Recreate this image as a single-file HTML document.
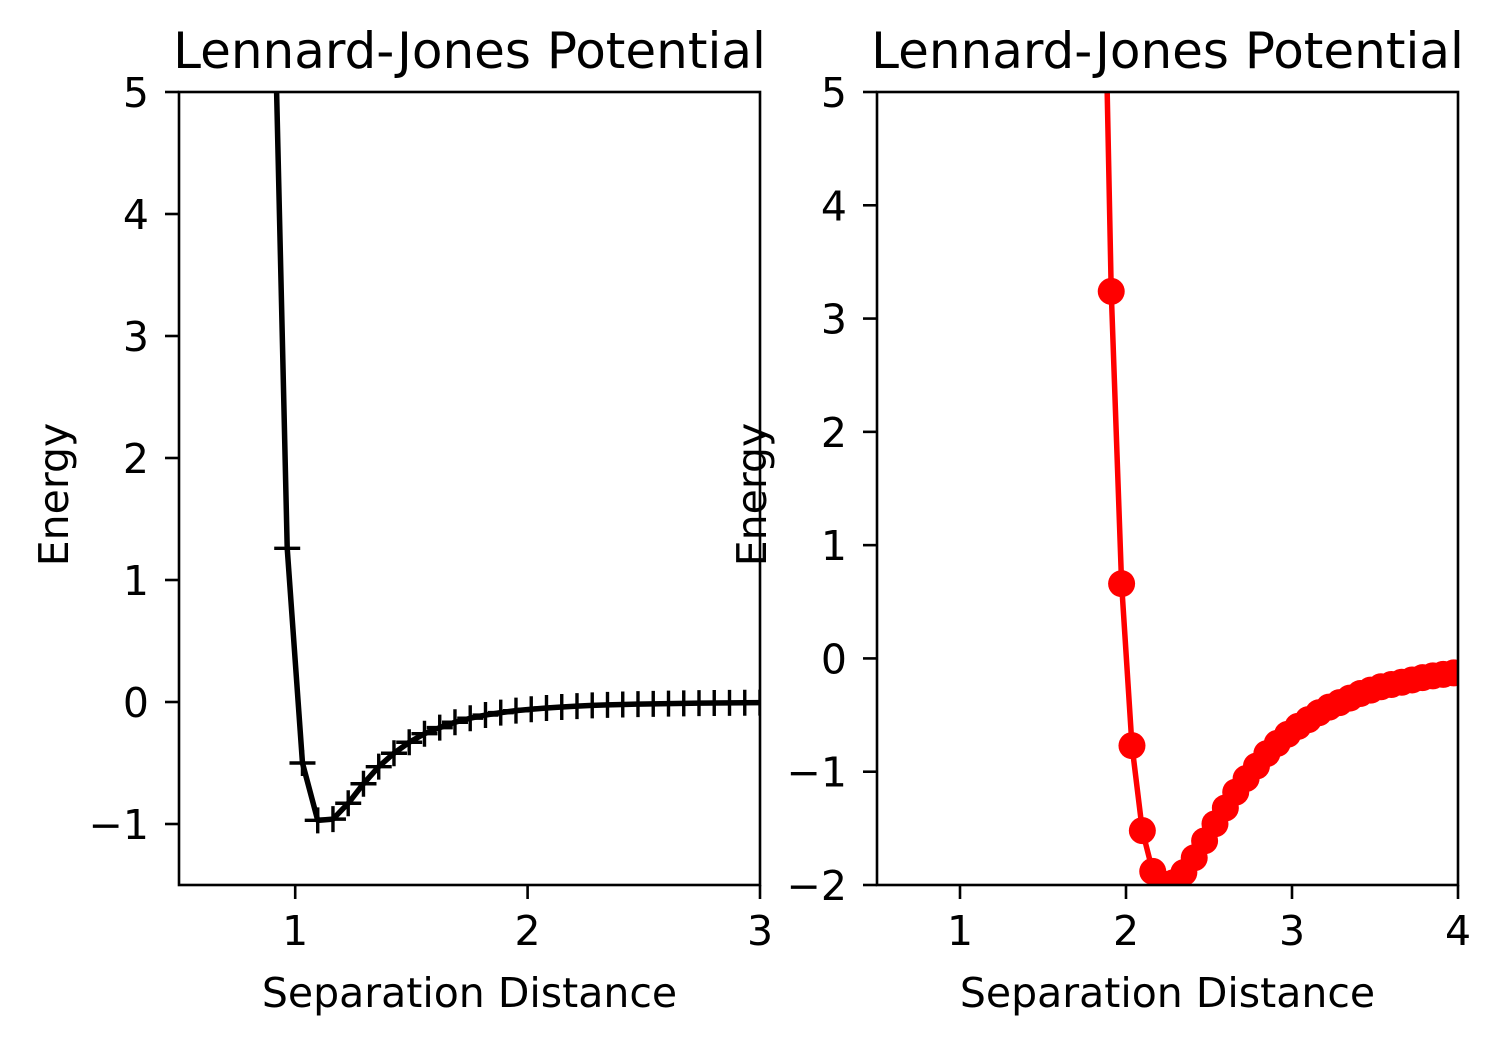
<!DOCTYPE html>
<html><head><meta charset="utf-8"><style>
html,body{margin:0;padding:0;background:#fff;}
svg{display:block;font-family:"DejaVu Sans","Liberation Sans",sans-serif;}
</style></head><body>
<svg id="fig" width="1501" height="1045" viewBox="0 0 1501 1045"></svg>
<script>
// Left panel data
const leftX = [0.9,0.9656,1.0313,1.0969,1.1625,1.2281,1.2938,1.3594,1.425,1.4906,1.5563,1.6219,1.6875,1.7531,1.8188,1.8844,1.95,2.0156,2.0813,2.1469,2.2125,2.2781,2.3438,2.4094,2.475,2.5406,2.6063,2.6719,2.7375,2.8031,2.8688,2.9344,3.0];
const leftY = [6.64,1.26,-0.5,-0.97,-0.96,-0.83,-0.67,-0.53,-0.42,-0.33,-0.26,-0.21,-0.166,-0.133,-0.107,-0.087,-0.071,-0.059,-0.049,-0.041,-0.034,-0.028,-0.024,-0.020,-0.017,-0.015,-0.013,-0.011,-0.0095,-0.0082,-0.0072,-0.0063,-0.0055];
const leftXTicks = [1,2,3];
const leftYTicks = [-1,0,1,2,3,4,5];
// Right panel data
const rightX = [1.848,1.911,1.9735,2.036,2.0985,2.161,2.2235,2.286,2.3485,2.411,2.4735,2.536,2.5985,2.661,2.7235,2.786,2.8485,2.911,2.9735,3.036,3.0985,3.161,3.2235,3.286,3.3485,3.411,3.4735,3.536,3.5985,3.661,3.7235,3.786,3.8485,3.911,3.9735];
const rightY = [7.8,3.24,0.66,-0.77,-1.52,-1.88,-1.99,-1.98,-1.89,-1.76,-1.61,-1.46,-1.32,-1.18,-1.06,-0.95,-0.84,-0.75,-0.67,-0.60,-0.54,-0.48,-0.43,-0.39,-0.35,-0.31,-0.28,-0.25,-0.23,-0.21,-0.19,-0.17,-0.154,-0.141,-0.128];
const rightXTicks = [1,2,3,4];
const rightYTicks = [-2,-1,0,1,2,3,4,5];

const NS="http://www.w3.org/2000/svg";
const svg=document.getElementById('fig');
function mk(tag,attrs,parent){const e=document.createElementNS(NS,tag);for(const k in attrs)e.setAttribute(k,attrs[k]);(parent||svg).appendChild(e);return e;}
function fmt(v){return v<0?'\u2212'+Math.abs(v):String(v);}

function panel(cfg){
  const g=mk('g',{});
  
  
  const sx=v=>cfg.x0+(v-cfg.xmin)/(cfg.xmax-cfg.xmin)*(cfg.x1-cfg.x0);
  const sy=v=>cfg.y1-(v-cfg.ymin)/(cfg.ymax-cfg.ymin)*(cfg.y1-cfg.y0);
  const cid='clip-'+cfg.name;
  const cp=mk('clipPath',{id:cid},g);
  mk('rect',{x:cfg.x0,y:cfg.y0,width:cfg.x1-cfg.x0,height:cfg.y1-cfg.y0},cp);
  const plot=mk('g',{'clip-path':'url(#'+cid+')'},g);
  const pts=cfg.xs.map((x,i)=>sx(x).toFixed(2)+','+sy(cfg.ys[i]).toFixed(2)).join(' ');
  const line=mk('polyline',{points:pts,fill:'none',stroke:cfg.color,'stroke-width':5.5,'stroke-linejoin':'round'},plot);
  
  
  cfg.xs.forEach((x,i)=>{
    const px=sx(x),py=sy(cfg.ys[i]);
    let m;
    if(cfg.marker==='plus'){
      m=mk('path',{d:`M${px-13},${py}H${px+13}M${px},${py-13}V${py+13}`,stroke:cfg.color,'stroke-width':3.4,fill:'none'},plot);
    }else{
      m=mk('circle',{cx:px,cy:py,r:13.5,fill:cfg.color},plot);
    }
    
    
  });
  const fr=mk('rect',{x:cfg.x0,y:cfg.y0,width:cfg.x1-cfg.x0,height:cfg.y1-cfg.y0,fill:'none',stroke:'#000','stroke-width':2.6},g);
  
  
  cfg.xt.forEach(v=>{
    const px=sx(v);
    mk('line',{x1:px,x2:px,y1:cfg.y1,y2:cfg.y1+14,stroke:'#000','stroke-width':2.6},g);
    const t=mk('text',{x:px,y:cfg.y1+60,'text-anchor':'middle','font-size':41,fill:'#000'},g);
    t.textContent=fmt(v);
    
    
  });
  cfg.yt.forEach(v=>{
    const py=sy(v);
    mk('line',{x1:cfg.x0-14,x2:cfg.x0,y1:py,y2:py,stroke:'#000','stroke-width':2.6},g);
    const t=mk('text',{x:cfg.x0-30,y:py+15,'text-anchor':'end','font-size':41,fill:'#000'},g);
    t.textContent=fmt(v);
    
    
  });
  const ti=mk('text',{x:(cfg.x0+cfg.x1)/2,y:68,'text-anchor':'middle','font-size':50,fill:'#000'},g);
  ti.textContent='Lennard-Jones Potential';
  
  
  const xl=mk('text',{x:(cfg.x0+cfg.x1)/2,y:1007,'text-anchor':'middle','font-size':41,fill:'#000'},g);
  xl.textContent='Separation Distance';
  
  
  const yc=(cfg.y0+cfg.y1)/2+6;
  const yl=mk('text',{x:cfg.ylx,y:yc,'text-anchor':'middle','font-size':41,fill:'#000',transform:`rotate(-90 ${cfg.ylx} ${yc})`},g);
  yl.textContent='Energy';
  
  
}
panel({name:'left-panel',x0:179,x1:760,y0:92,y1:885,xmin:0.5,xmax:3,ymin:-1.5,ymax:5,xs:leftX,ys:leftY,xt:leftXTicks,yt:leftYTicks,color:'#000',marker:'plus',ylx:68});
panel({name:'right-panel',x0:877,x1:1458,y0:92,y1:885,xmin:0.5,xmax:4,ymin:-2,ymax:5,xs:rightX,ys:rightY,xt:rightXTicks,yt:rightYTicks,color:'#ff0000',marker:'circle',ylx:766});
</script>
</body></html>
